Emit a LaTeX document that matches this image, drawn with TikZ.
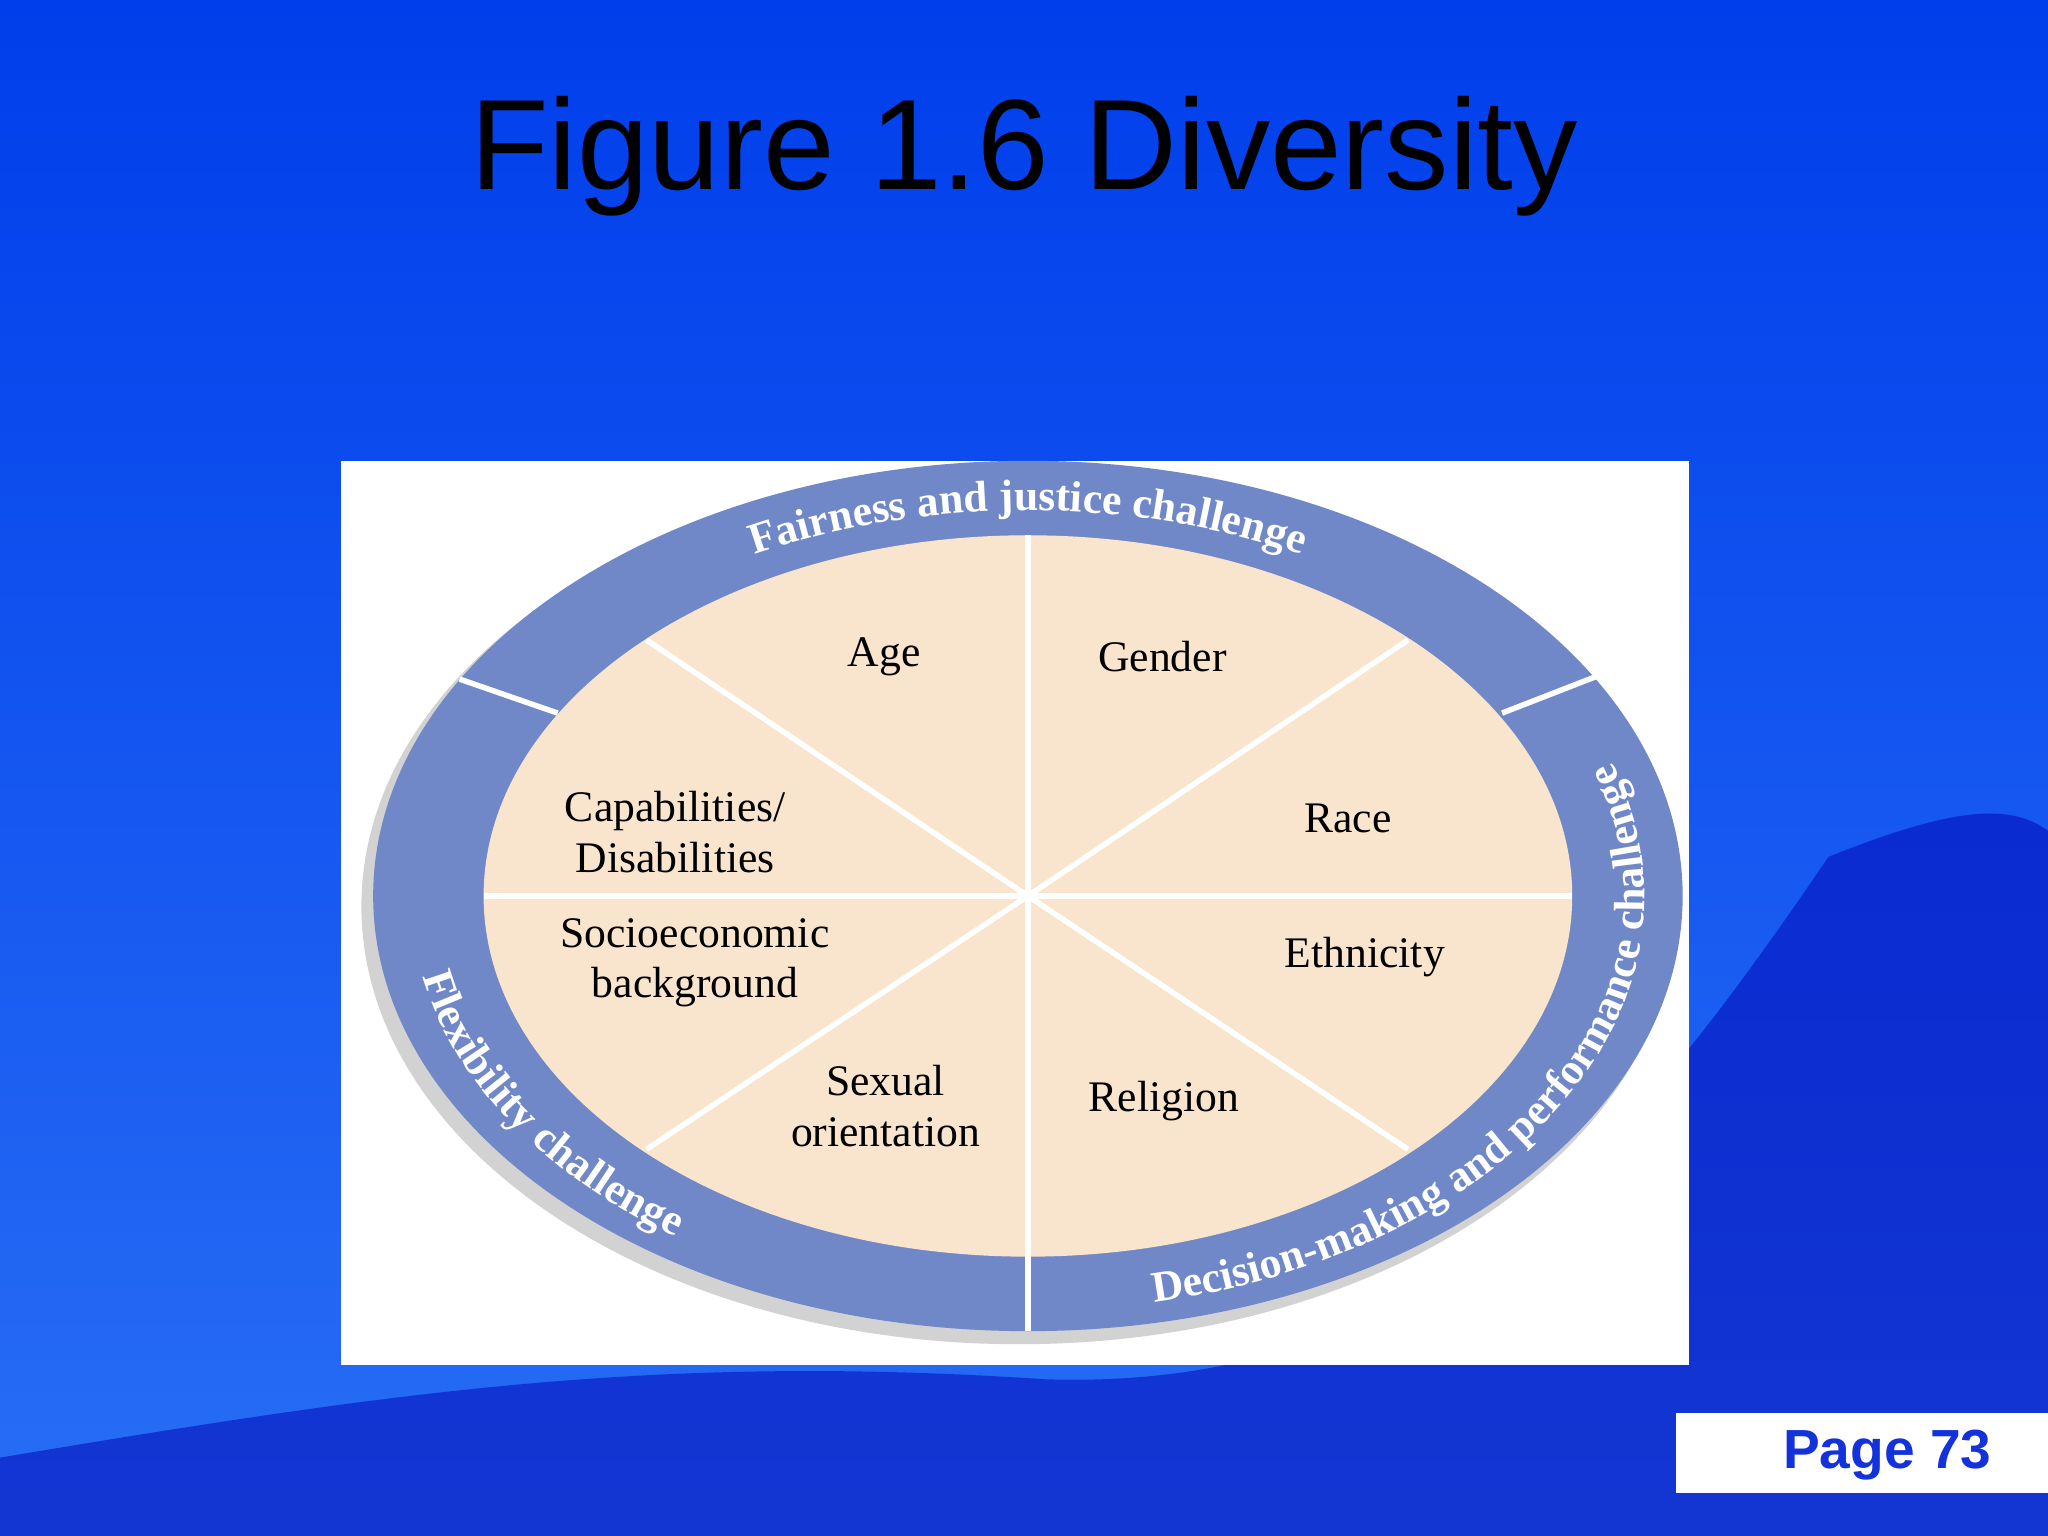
\documentclass[tikz,border=0pt]{standalone}
\usepackage{fontspec}
\setmainfont{Liberation Serif}
\newfontfamily\sans{Liberation Sans}
\usetikzlibrary{decorations.text}
\definecolor{ring}{RGB}{112,136,200}
\definecolor{pie}{RGB}{249,228,206}
\definecolor{bgtop}{RGB}{0,62,235}
\definecolor{bgbot}{RGB}{40,110,245}
\definecolor{pageblue}{RGB}{20,50,220}
\tikzset{lbl/.style={font=\fontsize{9.5}{11}\selectfont, align=center, text=black},
  sep/.style={white, line width=1.2pt},
  ringtext/.style={decorate, decoration={text effects along path, text align=center,
    text effects/.cd, text along path, every character/.style={text=white, font=\bfseries\fontsize{9.5}{11}\selectfont}}}}
\begin{document}
\begin{tikzpicture}[x=0.01cm,y=0.01cm]
\useasboundingbox (0,0) rectangle (1568,1176);
\shade[top color=bgtop, bottom color=bgbot] (0,0) rectangle (1568,1176);
\fill[blue!70!black, opacity=0.5] (0,0) -- (0,60) .. controls (300,110) and (500,140) .. (800,120) .. controls (1100,110) and (1250,300) .. (1400,520) .. controls (1500,560) and (1540,560) .. (1568,540) -- (1568,0) -- cycle;
\node[font=\sans\fontsize{28}{32}\selectfont] (title) at (784,1056) {Figure 1.6 Diversity};
\fill[white] (261,131) rectangle (1293,823);
\coordinate (c) at (787,490);
\fill[gray!35] ([shift={(-7,-8)}]c) ellipse [x radius=5.03cm, y radius=3.35cm];
\fill[ring] (c) ellipse [x radius=5.01cm, y radius=3.33cm];
\fill[pie] (c) ellipse [x radius=4.165cm, y radius=2.76cm];
\draw[sep] (c) -- ++(0,2.76cm);
\draw[sep] (c) -- ++(0,-3.33cm);
\draw[sep] (c) -- ++(4.165cm,0);
\draw[sep] (c) -- ++(-4.165cm,0);
\draw[sep] (c) -- (1078,296);
\draw[sep] (c) -- (495,296);
\draw[sep] (c) -- (1078,686);
\draw[sep] (c) -- (495,686);
\draw[sep] (352,656) -- (427,630);
\draw[sep] (1150,630) -- (1222,658);
\path[ringtext, decoration={text={Fairness and justice challenge}}]
  ([shift={(125:4.48cm and 2.95cm)}]c) arc[start angle=125, end angle=55, x radius=4.48cm, y radius=2.95cm];
\path[ringtext, decoration={text={Decision-making and performance challenge}}]
  ([shift={(-82:4.72cm and 3.18cm)}]c) arc[start angle=-82, end angle=24, x radius=4.72cm, y radius=3.18cm];
\path[ringtext, decoration={text={Flexibility challenge}}]
  ([shift={(190:4.72cm and 3.18cm)}]c) arc[start angle=190, end angle=236, x radius=4.72cm, y radius=3.18cm];
\node[lbl] (age) at (677,673) {Age};
\node[lbl] (gender) at (890,673) {Gender};
\node[lbl] (race) at (1032,549) {Race};
\node[lbl] (cap) at (517,539) {Capabilities/\\Disabilities};
\node[lbl] (socio) at (532,439) {Socioeconomic\\background};
\node[lbl] (eth) at (1045,443) {Ethnicity};
\node[lbl] (sex) at (678,329) {Sexual\\orientation};
\node[lbl] (rel) at (891,333) {Religion};
\fill[white] (1283,33) rectangle (1568,94);
\node[font=\sans\bfseries\fontsize{12}{14}\selectfont, text=pageblue] (page) at (1445,62) {Page 73};
\end{tikzpicture}
\end{document}
